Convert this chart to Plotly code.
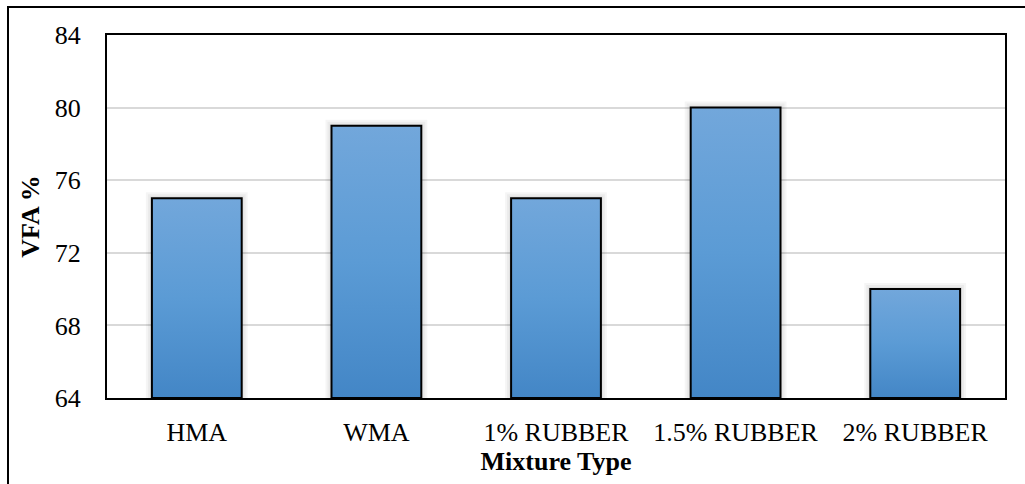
import plotly.graph_objects as go

# Void ratio filled with asphalt for each mixture
categories = ["HMA", "WMA", "1% RUBBER", "1.5% RUBBER", "2% RUBBER"]
vfa_values = [75, 79, 75, 80, 70]
y_ticks = [64, 68, 72, 76, 80, 84]

Y_MIN, Y_MAX = 64, 84
HALF_W = 0.25
FONT = "Liberation Serif"
FSIZE = 26

# pixel -> data unit conversions for the soft shadow halo
PX_X = 1 / 179.6
PX_Y = 20 / 363

fig = go.Figure()

for i, (cat, v) in enumerate(zip(categories, vfa_values)):
    # soft drop shadow around each column
    for k in (6, 4, 2):
        dx, dy = k * PX_X, k * PX_Y
        fig.add_trace(go.Scatter(
            x=[i - HALF_W - dx, i - HALF_W - dx, i + HALF_W + dx, i + HALF_W + dx, i - HALF_W - dx],
            y=[Y_MIN, v + dy, v + dy, Y_MIN, Y_MIN],
            mode="none", fill="toself", fillcolor="rgba(0,0,0,0.04)",
            showlegend=False, hoverinfo="skip",
        ))
    xs = [i - HALF_W, i - HALF_W, i + HALF_W, i + HALF_W, i - HALF_W]
    ys = [Y_MIN, v, v, Y_MIN, Y_MIN]
    fig.add_trace(go.Scatter(
        x=xs, y=ys, mode="lines", fill="toself",
        line=dict(color="black", width=2),
        fillgradient=dict(type="vertical",
                          colorscale=[[0, "#4386C6"], [0.5, "#5B9BD5"], [1, "#72A7DB"]]),
        name=cat, showlegend=False, hoverinfo="skip",
    ))

fig.update_layout(
    width=1025, height=484,
    margin=dict(l=107, r=20, t=35, b=86),
    paper_bgcolor="white", plot_bgcolor="white",
    font=dict(family=FONT, size=FSIZE, color="black"),
    showlegend=False,
    xaxis=dict(
        range=[-0.5, len(categories) - 0.5],
        tickmode="array", tickvals=list(range(len(categories))), ticktext=categories,
        showgrid=False, zeroline=False, ticks="",
        showline=True, linecolor="black", linewidth=2, mirror=True,
        ticklabelstandoff=10,
        title=dict(text="<b>Mixture Type</b>", font=dict(family=FONT, size=FSIZE), standoff=6),
        tickfont=dict(family=FONT, size=FSIZE),
    ),
    yaxis=dict(
        range=[Y_MIN, Y_MAX], tickvals=y_ticks,
        showgrid=True, gridcolor="#D9D9D9", gridwidth=1.5, zeroline=False, ticks="",
        showline=True, linecolor="black", linewidth=2, mirror=True,
        ticklabelstandoff=19,
        title=dict(text="<b>VFA %</b>", font=dict(family=FONT, size=FSIZE), standoff=8),
        tickfont=dict(family=FONT, size=FSIZE),
    ),
    shapes=[dict(
        type="rect", xref="paper", yref="paper", layer="above",
        x0=(8 - 107) / 898, x1=1.2, y0=-0.5, y1=1 + (35 - 7) / 363,
        line=dict(color="black", width=2), fillcolor="rgba(0,0,0,0)",
    )],
)

fig.write_html("out.html")
